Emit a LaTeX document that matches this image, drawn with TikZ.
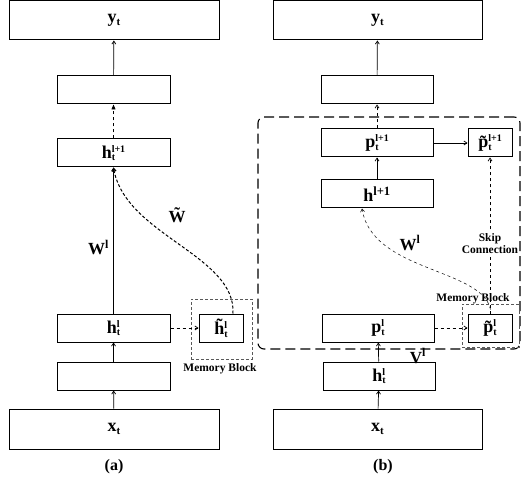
\documentclass[tikz,border=0pt]{standalone}
\usepackage{fontspec}
\setmainfont{Liberation Serif}
\usetikzlibrary{arrows.meta,positioning,calc}
\tikzset{
  layer/.style={draw, line width=1pt, inner sep=0pt, minimum height=28,
              font=\fontsize{18}{20}\selectfont\bfseries},
  mem/.style={draw=black!65, densely dashed, line width=0.8pt, inner sep=0pt},
  group/.style={draw, dash pattern=on 10pt off 5pt, line width=1.1pt,
              rounded corners=6pt, inner sep=0pt},
  flow/.style={-{Straight Barb[length=3pt,width=4pt]}, line width=0.7pt},
  dflow/.style={flow, dashed},
  tag/.style={font=\fontsize{17}{19}\selectfont\bfseries},
  note/.style={font=\fontsize{11.5}{12}\selectfont\bfseries, align=center},
  caption/.style={font=\fontsize{16}{18}\selectfont\bfseries},
}
% symbol with stacked super- and subscript
\newcommand{\vsym}[3]{#1\raisebox{-0.15em}{\fontsize{10}{10}\selectfont\shortstack[l]{#2\\#3}}}
\newcommand{\tsym}[1]{#1\raisebox{-0.15em}{\fontsize{11}{11}\selectfont t}}

\begin{document}
\begin{tikzpicture}[x=1pt, y=-1pt]
  \useasboundingbox (0,0) rectangle (522,481);
  % (a)
  \node[layer, minimum width=210, minimum height=39] (ya) at (114,20.5) {\tsym{y}};
  \node[layer, minimum width=113] (ea) at (113.5,90) {};
  \node[layer, minimum width=113] (hla) at (113.5,153) {\vsym{h}{l+1}{t}};
  \node[layer, minimum width=113] (hta) at (113.5,328) {\vsym{h}{l}{t}};
  \node[layer, minimum width=113] (ba) at (113.5,376) {};
  \node[layer, minimum width=210, minimum height=40] (xa) at (114,429) {\tsym{x}};
  \node[layer, minimum width=44] (hti) at (221,328) {\vsym{\~{h}}{l}{t}};
  \node[mem, minimum width=61, minimum height=60] (mba) at (221.5,329) {};
  \node[note] (mla) at (220,369) {Memory Block};
  \draw[flow] (ea) -- (ya);
  \draw[-{Triangle[length=5pt,width=4pt]}, line width=0.7pt, dashed] (hla) -- (ea);
  \draw[flow] (hta) -- node[tag, left=1pt, pos=0.45] {W\textsuperscript{l}} (hla);
  \draw[flow] (ba) -- (hta);
  \draw[flow] (xa) -- (ba);
  \draw[dflow] (hta) -- (hti);
  \draw[flow, densely dashed, line width=1pt] ([xshift=12pt]hti.north) .. controls (236,255) and (125,235) .. (hla.south);
  \node[tag] (wta) at (177,215) {\~{W}};
  \node[caption] (capa) at (114,467) {(a)};
  % (b)
  \node[group, minimum width=262, minimum height=232] (grp) at (389,233) {};
  \node[layer, minimum width=209, minimum height=39] (yb) at (377.5,20.5) {\tsym{y}};
  \node[layer, minimum width=112] (eb) at (377,90) {};
  \node[layer, minimum width=112] (pl1) at (377,143) {\vsym{p}{l+1}{t}};
  \node[layer, minimum width=44] (pti1) at (490,143) {\vsym{\~{p}}{l+1}{t}};
  \node[layer, minimum width=112] (hl1) at (377,194) {h\textsuperscript{l+1}};
  \node[layer, minimum width=112] (pl) at (378,328) {\vsym{p}{l}{t}};
  \node[layer, minimum width=44] (pti) at (490,328) {\vsym{\~{p}}{l}{t}};
  \node[mem, minimum width=57, minimum height=43] (mbb) at (490.5,325.5) {};
  \node[layer, minimum width=112] (htb) at (379,376) {\vsym{h}{l}{t}};
  \node[layer, minimum width=209, minimum height=40] (xb) at (377.5,429) {\tsym{x}};
  \node[note] (mlb) at (473,299) {Memory Block};
  \draw[flow] (eb) -- (yb);
  \draw[dflow] (pl1) -- (eb);
  \draw[flow] (hl1) -- (pl1);
  \draw[flow] (pl1) -- (pti1);
  \draw[dflow] (pti) -- node[note, fill=white, inner sep=1pt, pos=0.45] {Skip\\Connection} (pti1);
  \draw[dflow] (pl) -- (pti);
  \draw[flow] (htb) -- (pl);
  \draw[flow] (xb) -- (htb);
  \draw[dflow, line width=0.5pt] ([yshift=-6pt]mbb.north) .. controls (482,268) and (372,272) .. ([xshift=-15pt]hl1.south);
  \node[tag] (wlb) at (410,243) {W\textsuperscript{l}};
  \node[tag] (vlb) at (418,356) {V\textsuperscript{l}};
  \node[caption] (capb) at (383,467) {(b)};
\end{tikzpicture}
\end{document}
